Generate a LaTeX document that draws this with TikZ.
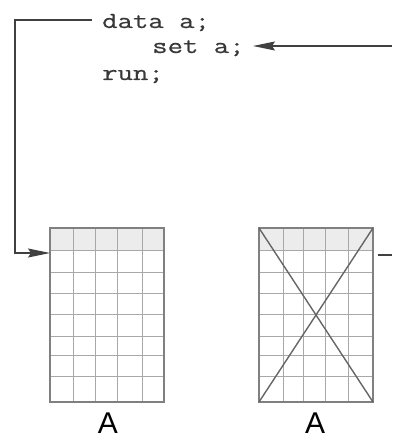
\documentclass[tikz,border=0pt]{standalone}
\usepackage{fontspec}
\usetikzlibrary{arrows.meta}
\newfontfamily\labfont{Liberation Sans}
\newfontfamily\codefont[FakeBold=0.5]{Latin Modern Mono}
\definecolor{linegray}{HTML}{404040}
\definecolor{gridgray}{HTML}{A8A8A8}
\definecolor{bordergray}{HTML}{808080}
\definecolor{headgray}{HTML}{ECECEC}
\tikzset{
  x=1pt, y=-1pt,
  codeline/.style={anchor=base west, inner sep=0pt, font=\codefont\fontsize{23}{25}\selectfont, text=black!78},
  conn/.style={draw=linegray, line width=1.3pt},
  tip/.style={-{Stealth[length=22pt,width=9pt,inset=3pt]}},
  gridline/.style={draw=gridgray, line width=0.8pt},
  border/.style={draw=bordergray, line width=1.2pt},
  cross/.style={draw=bordergray!80!black, line width=1.4pt},
  lab/.style={anchor=base, inner sep=0pt, font=\labfont\fontsize{30}{30}\selectfont}
}
\begin{document}
\begin{tikzpicture}
\useasboundingbox[fill=white] (0,0) rectangle (392,438);
% code
\node[codeline] (l1) at (102,28) {\scalebox{1.3}[1]{data a;}};
\node[codeline] (l2) at (152,53) {\scalebox{1.3}[1]{set a;}};
\node[codeline] (l3) at (102,80) {\scalebox{1.3}[1]{run;}};
% grids
\node[minimum width=0pt, inner sep=0pt] (g1) at (107,315) {};
\node[minimum width=0pt, inner sep=0pt] (g2) at (316,315) {};
\fill[headgray] (50,228) rectangle (164,250);
\fill[headgray] (259,228) rectangle (373,250);
\foreach \yy in {250,272,293,314,336,355,376}{
  \draw[gridline] (50,\yy) -- (164,\yy);
  \draw[gridline] (259,\yy) -- (373,\yy);
}
\foreach \xx in {73,95,117,142}{
  \draw[gridline] (\xx,228) -- (\xx,402);
}
\foreach \xx in {283,303,325,348}{
  \draw[gridline] (\xx,228) -- (\xx,402);
}
\draw[border] (50,228) rectangle (164,402);
\draw[border] (259,228) rectangle (373,402);
\draw[cross] (259,228) -- (373,402);
\draw[cross] (373,228) -- (259,402);
% labels
\node[lab] (A1) at (108,433) {A};
\node[lab] (A2) at (315,433) {A};
% connectors
\coordinate (c1) at (92,20);
\coordinate (c2) at (15,20);
\coordinate (c3) at (15,253);
\coordinate (g1in) at (50,253);
\draw[conn, tip] (c1) -- (c2) -- (c3) -- (g1in);
\coordinate (r1) at (392,46);
\coordinate (l2tip) at (253,46);
\draw[conn, tip] (r1) -- (l2tip);
\coordinate (g2out) at (378,255);
\coordinate (r2) at (392,255);
\draw[conn] (g2out) -- (r2);
\end{tikzpicture}
\end{document}
